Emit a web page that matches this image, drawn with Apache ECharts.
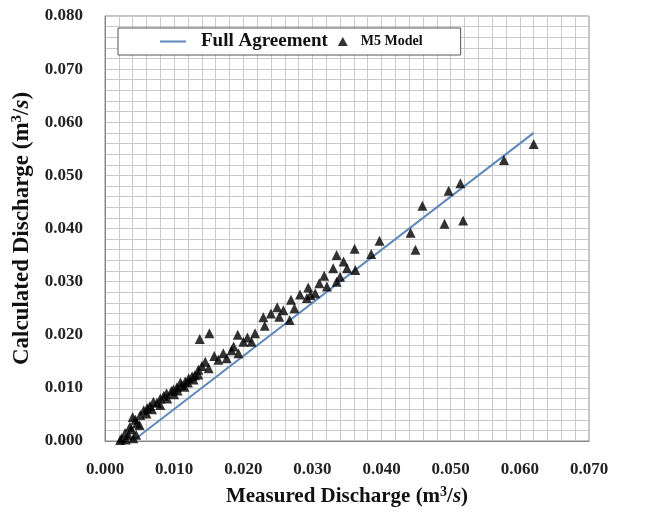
<!DOCTYPE html>
<html>
<head>
<meta charset="utf-8">
<script src="https://cdn.jsdelivr.net/npm/echarts@6/dist/echarts.min.js"></script>
<style>
  html, body { margin: 0; padding: 0; background: #ffffff; }
  #chart { width: 658px; height: 513px; }
</style>
</head>
<body>
<div id="chart"></div>
<script>
// Axis ticks (m^3/s)
const xTicks = [0.000, 0.010, 0.020, 0.030, 0.040, 0.050, 0.060, 0.070];
const yTicks = [0.000, 0.010, 0.020, 0.030, 0.040, 0.050, 0.060, 0.070, 0.080];

// Full agreement reference line (start and end)
const agreementLine = [[0.0040, 0.0000], [0.0620, 0.0580]];

// M5 model: measured discharge vs calculated discharge
const measured = [
  0.0620, 0.0577, 0.0514, 0.0497, 0.0459, 0.0518, 0.0491, 0.0442, 0.0449, 0.0397,
  0.0385, 0.0361, 0.0335, 0.0345, 0.0362, 0.0350, 0.0340, 0.0317, 0.0335, 0.0321,
  0.0294, 0.0304, 0.0297, 0.0292, 0.0269, 0.0274, 0.0249, 0.0252, 0.0267, 0.0229,
  0.0231, 0.0217, 0.0192, 0.0200, 0.0212, 0.0186, 0.0151, 0.0137, 0.0183, 0.0193,
  0.0171, 0.0176, 0.0164, 0.0145, 0.0150, 0.0135, 0.0130, 0.0121, 0.0116, 0.0111,
  0.0104, 0.0096, 0.0089, 0.0080, 0.0070, 0.0061, 0.0051, 0.0044, 0.0036, 0.0029,
  0.0024, 0.0041, 0.0034, 0.0022, 0.0038, 0.0046, 0.0056, 0.0065, 0.0075, 0.0085,
  0.0099, 0.0109, 0.0126, 0.0140, 0.0158, 0.0206, 0.0240, 0.0258, 0.0282, 0.0310,
  0.0330, 0.0030, 0.0045, 0.0050, 0.0040, 0.0060, 0.0068, 0.0080, 0.0090, 0.0100,
  0.0105, 0.0115, 0.0120, 0.0128, 0.0135
];
const calculated = [
  0.0559, 0.0529, 0.0485, 0.0471, 0.0443, 0.0415, 0.0409, 0.0392, 0.0360, 0.0377,
  0.0352, 0.0362, 0.0350, 0.0338, 0.0322, 0.0325, 0.0309, 0.0311, 0.0300, 0.0291,
  0.0289, 0.0278, 0.0275, 0.0269, 0.0266, 0.0250, 0.0252, 0.0234, 0.0228, 0.0233,
  0.0217, 0.0203, 0.0200, 0.0187, 0.0187, 0.0178, 0.0203, 0.0192, 0.0171, 0.0165,
  0.0165, 0.0156, 0.0153, 0.0149, 0.0137, 0.0134, 0.0124, 0.0118, 0.0112, 0.0105,
  0.0101, 0.0094, 0.0090, 0.0080, 0.0074, 0.0062, 0.0049, 0.0040, 0.0027, 0.0015,
  0.0005, 0.0005, 0.0011, 0.0002, 0.0022, 0.0033, 0.0058, 0.0066, 0.0072, 0.0085,
  0.0097, 0.0110, 0.0122, 0.0141, 0.0160, 0.0195, 0.0240, 0.0246, 0.0276, 0.0297,
  0.0325, 0.0003, 0.0012, 0.0030, 0.0045, 0.0052, 0.0060, 0.0068, 0.0080, 0.0088,
  0.0095, 0.0102, 0.0110, 0.0116, 0.0125
];

const modelPoints = measured.map((m, i) => [m, calculated[i]]);

const serif = '"Liberation Serif", "Times New Roman", serif';
const gridColor = '#c9c9c9';
const frameColor = '#8a8a8a';
const lineColor = '#5f88ba';

const chart = echarts.init(document.getElementById('chart'), null, { renderer: 'canvas' });

const axisName = (text) => text + ' (m{sup|3}/{it|s})';
const nameRich = (size) => ({
  sup: { fontFamily: serif, fontWeight: 'bold', fontSize: Math.round(size * 0.65), color: '#111', padding: [0, 0, Math.round(size * 0.45), 0] },
  it: { fontFamily: serif, fontStyle: 'italic', fontSize: size, color: '#111' }
});

chart.setOption({
  backgroundColor: '#ffffff',
  animation: false,
  grid: {
    left: 105, right: 69, top: 16, bottom: 72,
    show: true, borderColor: frameColor, borderWidth: 1, backgroundColor: '#ffffff'
  },
  legend: {
    left: 118, top: 28,
    orient: 'horizontal',
    backgroundColor: '#ffffff',
    borderColor: '#555555', borderWidth: 1,
    padding: [4, 38, 4, 42],
    itemGap: 10, itemWidth: 26, itemHeight: 9,
    symbolKeepAspect: true,
    data: [
      {
        name: 'Full Agreement',
        icon: 'path://M0,0 H26 V2 H0 Z',
        itemStyle: { color: lineColor },
        textStyle: { fontFamily: serif, fontWeight: 'bold', fontSize: 19, color: '#111', padding: [0, 0, 0, 10] }
      },
      {
        name: 'M5 Model',
        icon: 'path://M5,0 L10,9 L0,9 Z',
        itemStyle: { color: '#000000' },
        textStyle: { fontFamily: serif, fontWeight: 'bold', fontSize: 14, color: '#111' }
      }
    ]
  },
  xAxis: {
    type: 'value',
    min: xTicks[0], max: xTicks[xTicks.length - 1], interval: 0.010,
    axisLine: { show: true, lineStyle: { color: frameColor } },
    axisTick: { show: false },
    axisLabel: {
      margin: 20,
      fontFamily: serif, fontWeight: 'bold', fontSize: 17, color: '#222',
      formatter: (v) => v.toFixed(3)
    },
    splitLine: { show: true, lineStyle: { color: gridColor, width: 1 } },
    minorTick: { show: false, splitNumber: 5 },
    minorSplitLine: { show: true, lineStyle: { color: gridColor, width: 1 } },
    name: axisName('Measured Discharge'),
    nameLocation: 'middle', nameGap: 44,
    nameTextStyle: { fontFamily: serif, fontWeight: 'bold', fontSize: 21, color: '#111', rich: nameRich(21) }
  },
  yAxis: {
    type: 'value',
    min: yTicks[0], max: yTicks[yTicks.length - 1], interval: 0.010,
    axisLine: { show: true, lineStyle: { color: frameColor } },
    axisTick: { show: false },
    axisLabel: {
      margin: 22,
      fontFamily: serif, fontWeight: 'bold', fontSize: 17, color: '#222',
      formatter: (v) => v.toFixed(3)
    },
    splitLine: { show: true, lineStyle: { color: gridColor, width: 1 } },
    minorTick: { show: false, splitNumber: 5 },
    minorSplitLine: { show: true, lineStyle: { color: gridColor, width: 1 } },
    name: axisName('Calculated Discharge'),
    nameLocation: 'middle', nameGap: 70,
    nameTextStyle: { fontFamily: serif, fontWeight: 'bold', fontSize: 23, color: '#111', rich: nameRich(23) }
  },
  series: [
    {
      name: 'Full Agreement',
      type: 'line',
      data: agreementLine,
      symbol: 'none',
      lineStyle: { color: lineColor, width: 2 },
      itemStyle: { color: lineColor },
      z: 3
    },
    {
      name: 'M5 Model',
      type: 'scatter',
      data: modelPoints,
      symbol: 'triangle',
      symbolSize: 10,
      itemStyle: { color: '#000000' },
      z: 4
    }
  ]
});
</script>
</body>
</html>
